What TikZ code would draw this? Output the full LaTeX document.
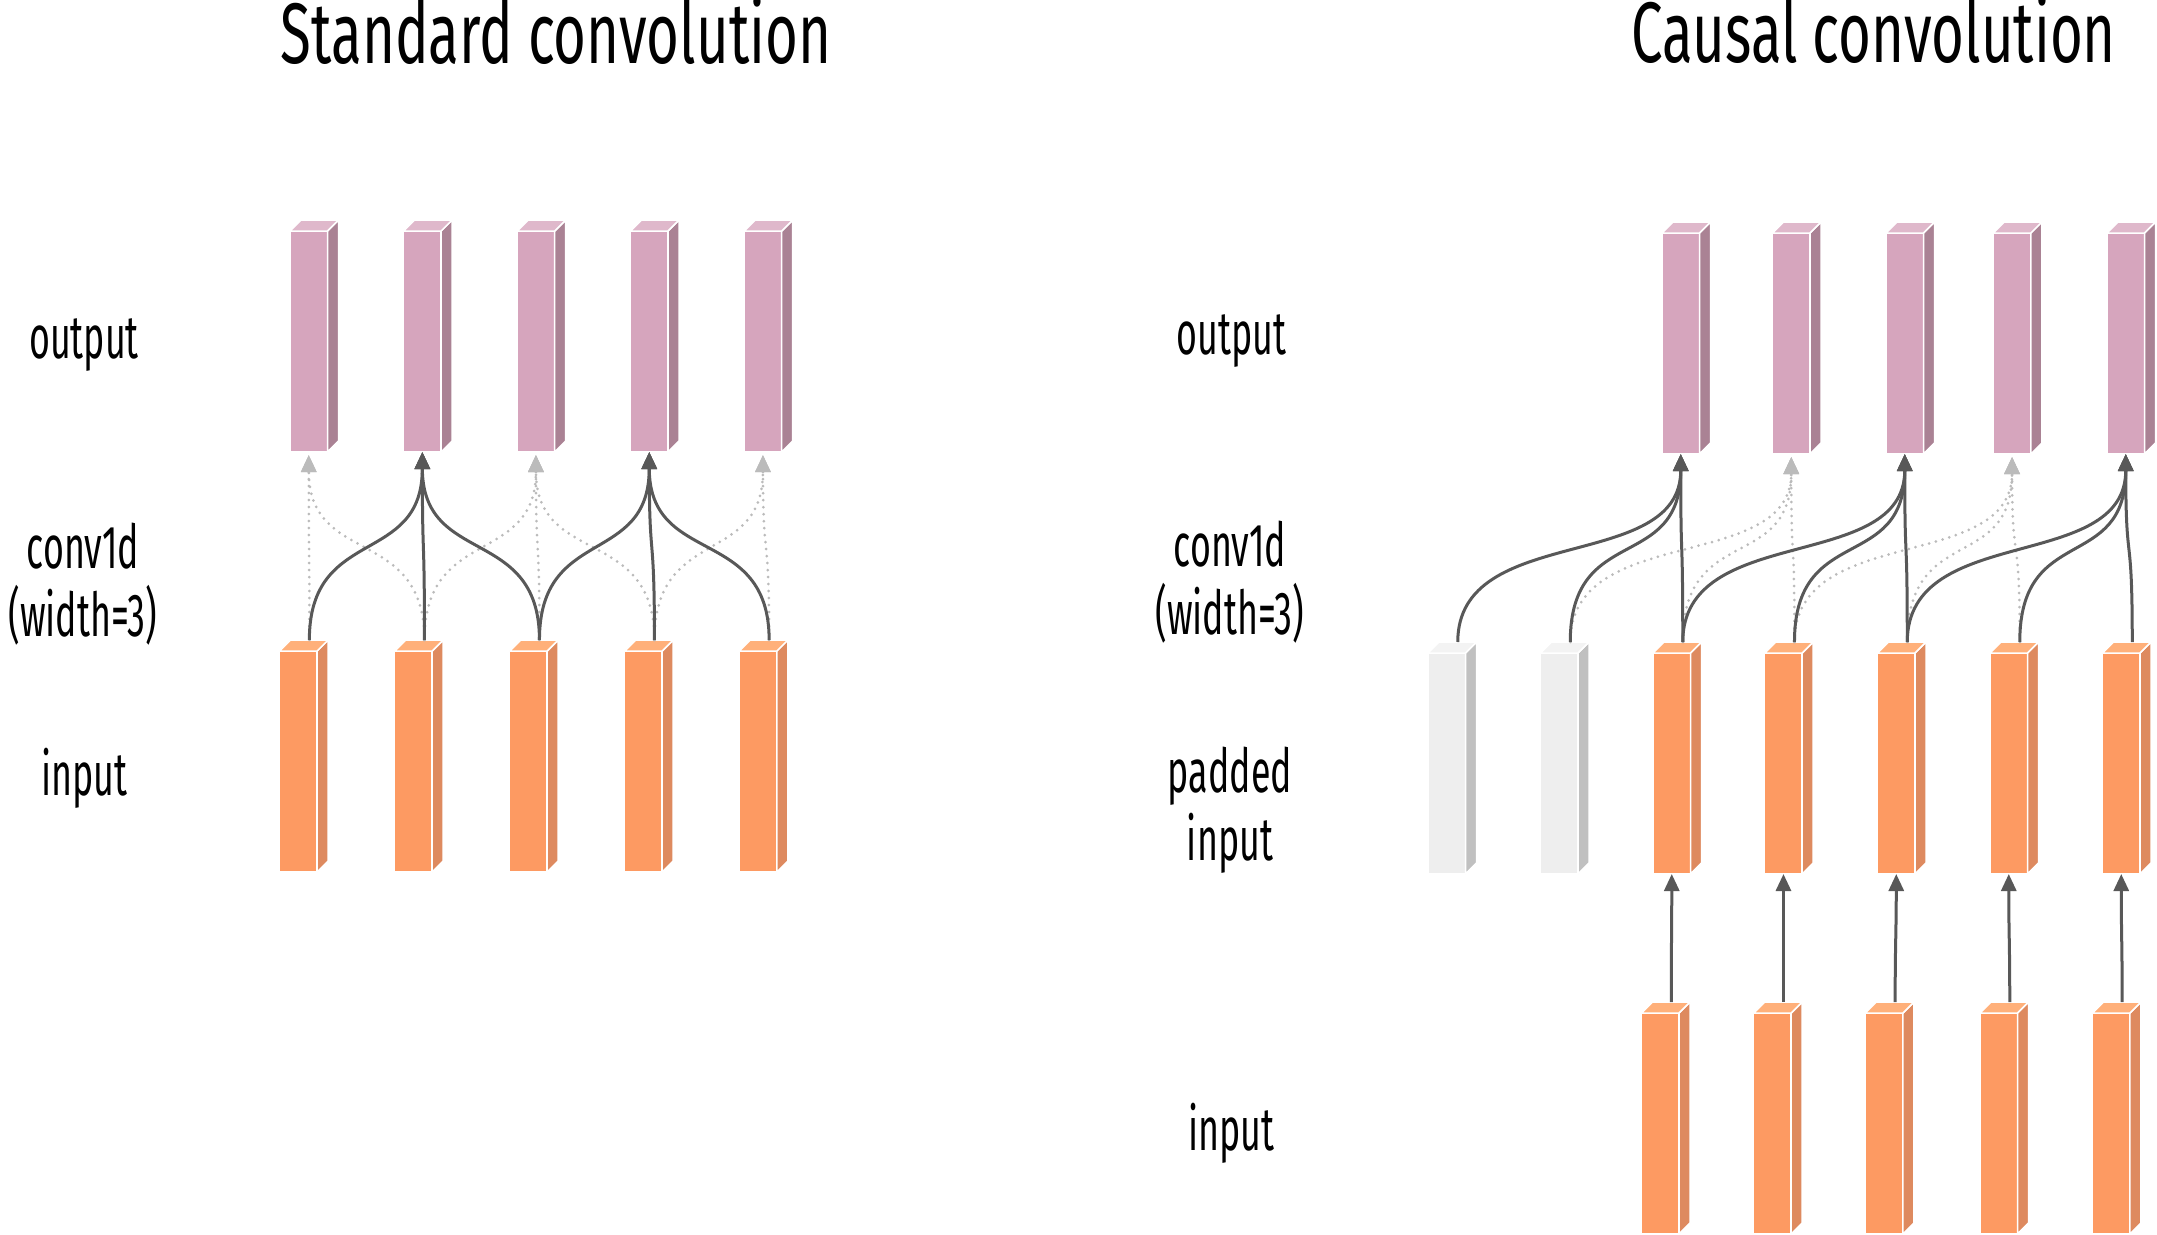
\documentclass[tikz,border=0pt]{standalone}
\usepackage{fontspec}
\setmainfont{Fira Sans}[FakeStretch=0.59]
\newfontfamily\ttlfont{Fira Sans}[FakeStretch=0.655]
\usetikzlibrary{arrows.meta}
\definecolor{pkF}{HTML}{D6A5BD}
\definecolor{pkS}{HTML}{AA8294}
\definecolor{pkT}{HTML}{DFB8CB}
\definecolor{orF}{HTML}{FD9A62}
\definecolor{orS}{HTML}{DE8A5F}
\definecolor{orT}{HTML}{FFB07A}
\definecolor{gyF}{HTML}{EEEEEE}
\definecolor{gyS}{HTML}{C0C0C0}
\definecolor{gyT}{HTML}{F3F3F3}
\definecolor{arrD}{HTML}{585858}
\definecolor{arrL}{HTML}{BBBBBB}
\tikzset{
  face/.style={rectangle, minimum width=37.5pt, minimum height=221pt, inner sep=0pt, outer sep=0pt, draw=white, line width=1.5pt},
  facedge/.style={draw=white, line width=1.5pt, line join=round},
  solidarr/.style={draw=arrD, line width=3pt, -{Triangle[length=17pt,width=15pt]}},
  dotarr/.style={draw=arrL, line width=3pt, line cap=round, dash pattern=on 0pt off 7pt, -{Triangle[length=17pt,width=15pt]}, shorten >=3pt},
  lbl/.style={font=\fontsize{60.7}{68}\selectfont, align=center, inner sep=0pt, anchor=base},
  ttl/.style={font=\ttlfont\fontsize{86}{100}\selectfont, inner sep=0pt, anchor=base},
}
\newcommand\cube[4]{%
  \node[face, fill=#4F] (#1) at (#2+18.75,#3+110.5) {};
  \filldraw[facedge, fill=#4S] (#1.north east) -- ++(11,-11) -- ([shift={(11,-11)}]#1.south east) -- (#1.south east) -- cycle;
  \filldraw[facedge, fill=#4T] (#1.north west) -- ++(11,-11) -- ([shift={(11,-11)}]#1.north east) -- (#1.north east) -- cycle;
}
\newcommand\conn[4]{\draw[#1] ([shift={(11,-11)}]#2.north) .. controls +(0,-#4) and +(0,#4) .. (#3.south);}
\begin{document}
\begin{tikzpicture}[x=1pt,y=-1pt]
\useasboundingbox (0,0) rectangle (2157,1234);
% titles
\node[ttl] (t1) at (556,63) {Standard convolution};
\node[ttl] (t2) at (1873.5,62) {Causal convolution};
% left labels
\node[lbl] (l1) at (84,358) {output};
\node[lbl] (l2) at (83,636) {conv1d\\(width=3)};
\node[lbl] (l3) at (84.5,795) {input};
% right labels
\node[lbl] (r1) at (1231.5,354) {output};
\node[lbl] (r2) at (1230,634) {conv1d\\(width=3)};
\node[lbl] (r3) at (1230,860) {padded\\input};
\node[lbl] (r4) at (1231.5,1150) {input};
% left bars
\foreach \n/\x in {1/290,2/403.6,3/517.2,4/630.5,5/744.2} {\cube{lo\n}{\x}{231}{pk}}
\foreach \n/\x in {1/279.6,2/394.7,3/509.7,4/624.7,5/739.4} {\cube{li\n}{\x}{651}{or}}
% right bars
\foreach \n/\x in {1/1662,2/1772.5,3/1886,4/1993.3,5/2107} {\cube{ro\n}{\x}{233}{pk}}
\foreach \n/\x in {1/1428,2/1540.5} {\cube{rp\n}{\x}{653}{gy}}
\foreach \n/\x in {3/1653,4/1764.7,5/1877.5,6/1990,7/2102.5} {\cube{rp\n}{\x}{653}{or}}
\foreach \n/\x in {1/1641.5,2/1753.7,3/1865.4,4/1980,5/2092.4} {\cube{rb\n}{\x}{1013}{or}}
% left connectors
\conn{dotarr}{li1}{lo1}{115}
\conn{dotarr}{li2}{lo1}{115}
\conn{dotarr}{li2}{lo3}{115}
\conn{dotarr}{li3}{lo3}{115}
\conn{dotarr}{li4}{lo3}{115}
\conn{dotarr}{li4}{lo5}{115}
\conn{dotarr}{li5}{lo5}{115}
\conn{solidarr}{li1}{lo2}{115}
\conn{solidarr}{li2}{lo2}{115}
\conn{solidarr}{li3}{lo2}{115}
\conn{solidarr}{li3}{lo4}{115}
\conn{solidarr}{li4}{lo4}{115}
\conn{solidarr}{li5}{lo4}{115}
% right connectors
\conn{dotarr}{rp2}{ro2}{120}
\conn{dotarr}{rp3}{ro2}{120}
\conn{dotarr}{rp4}{ro2}{120}
\conn{dotarr}{rp4}{ro4}{120}
\conn{dotarr}{rp5}{ro4}{120}
\conn{dotarr}{rp6}{ro4}{120}
\conn{solidarr}{rp1}{ro1}{120}
\conn{solidarr}{rp2}{ro1}{120}
\conn{solidarr}{rp3}{ro1}{120}
\conn{solidarr}{rp3}{ro3}{120}
\conn{solidarr}{rp4}{ro3}{120}
\conn{solidarr}{rp5}{ro3}{120}
\conn{solidarr}{rp5}{ro5}{120}
\conn{solidarr}{rp6}{ro5}{120}
\conn{solidarr}{rp7}{ro5}{120}
% bottom inputs to padded
\foreach \a/\b in {1/3,2/4,3/5,4/6,5/7} {\conn{solidarr}{rb\a}{rp\b}{60}}
\end{tikzpicture}
\end{document}
